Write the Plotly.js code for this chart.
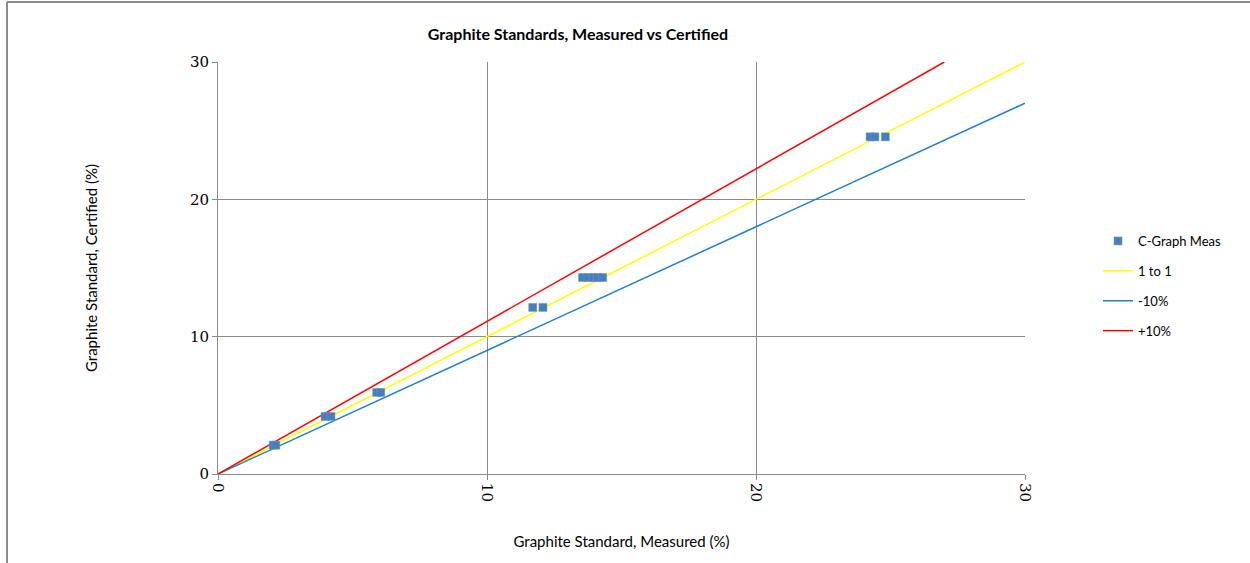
<!DOCTYPE html>
<html>
<head>
<meta charset="utf-8">
<script src="https://cdn.plot.ly/plotly-3.0.1.min.js"></script>
<style>
html,body{margin:0;padding:0;background:#fff;}
#chart{width:1250px;height:563px;}
</style>
</head>
<body>
<div id="chart"></div>
<script>
// Data
const measX = [2.05, 2.15, 3.98, 4.2, 5.9, 6.05, 11.7, 12.08, 13.55, 13.75, 13.95, 14.1, 14.3, 24.24, 24.42, 24.81];
const certY = [2.1, 2.1, 4.19, 4.19, 5.94, 5.94, 12.13, 12.13, 14.31, 14.31, 14.31, 14.31, 14.31, 24.55, 24.55, 24.55];
const oneX = [0, 30], oneY = [0, 30];
const minusX = [0, 30], minusY = [0, 27];
const plusX = [0, 27], plusY = [0, 30];
const xTicks = [0, 10, 20, 30];
const yTicks = [0, 10, 20, 30];

const sans = "Lato, 'Open Sans', sans-serif";
const serif = "'DejaVu Serif', 'Liberation Serif', serif";

const traces = [
  {x: oneX, y: oneY, name: '1 to 1', mode: 'lines', type: 'scatter', legendgroup: 'b', legendrank: 2,
   line: {color: '#FFFF00', width: 1.5}},
  {x: minusX, y: minusY, name: '-10%', mode: 'lines', type: 'scatter', legendgroup: 'c', legendrank: 3,
   line: {color: '#1F7FD0', width: 1.5}},
  {x: plusX, y: plusY, name: '+10%', mode: 'lines', type: 'scatter', legendgroup: 'd', legendrank: 4,
   line: {color: '#FF0000', width: 1.5}},
  {x: measX, y: certY, name: 'C-Graph Meas', mode: 'markers', type: 'scatter', legendgroup: 'a', legendrank: 1,
   marker: {symbol: 'square', size: 8, color: '#4A7EBB', line: {width: 0.5, color: '#6A96CC'}}}
];

const layout = {
  width: 1250, height: 563,
  margin: {l: 218, r: 225, t: 62, b: 89},
  paper_bgcolor: '#fff', plot_bgcolor: '#fff',
  title: {text: '<b>Graphite Standards, Measured vs Certified</b>', x: 578/1250, xanchor: 'center',
          y: 1 - 34/563, yanchor: 'middle', font: {family: sans, size: 16, color: '#000'}},
  xaxis: {range: [0, 30], tickvals: xTicks, ticktext: xTicks.map(String), tickangle: 90,
          showgrid: true, gridcolor: '#8a8a8a', gridwidth: 1, zeroline: false,
          showline: true, linecolor: '#8a8a8a', linewidth: 1,
          ticks: 'outside', ticklen: 5, tickcolor: '#8a8a8a',
          tickfont: {family: serif, size: 15, color: '#000'},
          title: {text: 'Graphite Standard, Measured (%)', font: {family: sans, size: 15, color: '#000'}, standoff: 35}},
  yaxis: {range: [0, 30], tickvals: yTicks, ticktext: yTicks.map(String),
          showgrid: true, gridcolor: '#8a8a8a', gridwidth: 1, zeroline: false,
          showline: true, linecolor: '#8a8a8a', linewidth: 1,
          ticks: 'outside', ticklen: 5, tickcolor: '#8a8a8a',
          tickfont: {family: serif, size: 15, color: '#000'},
          title: {text: 'Graphite Standard, Certified (%)', font: {family: sans, size: 15, color: '#000'}, standoff: 88}},
  legend: {x: (1098-218)/807, y: (474-226)/412, xanchor: 'left', yanchor: 'top',
           font: {family: sans, size: 13, color: '#000'}, tracegroupgap: 10,
           bgcolor: 'rgba(0,0,0,0)', itemwidth: 30, traceorder: 'grouped'},
  showlegend: true,
  shapes: [
    {type: 'line', xref: 'paper', yref: 'paper', x0: (7-218)/807, x1: (1250-218)/807,
     y0: (474-2)/412, y1: (474-2)/412, line: {color: '#8c8c8c', width: 2}},
    {type: 'line', xref: 'paper', yref: 'paper', x0: (7-218)/807, x1: (7-218)/807,
     y0: (474-2)/412, y1: (474-563)/412, line: {color: '#8c8c8c', width: 2}}
  ]
};

Plotly.newPlot('chart', traces, layout, {displayModeBar: false, staticPlot: true});
</script>
</body>
</html>
